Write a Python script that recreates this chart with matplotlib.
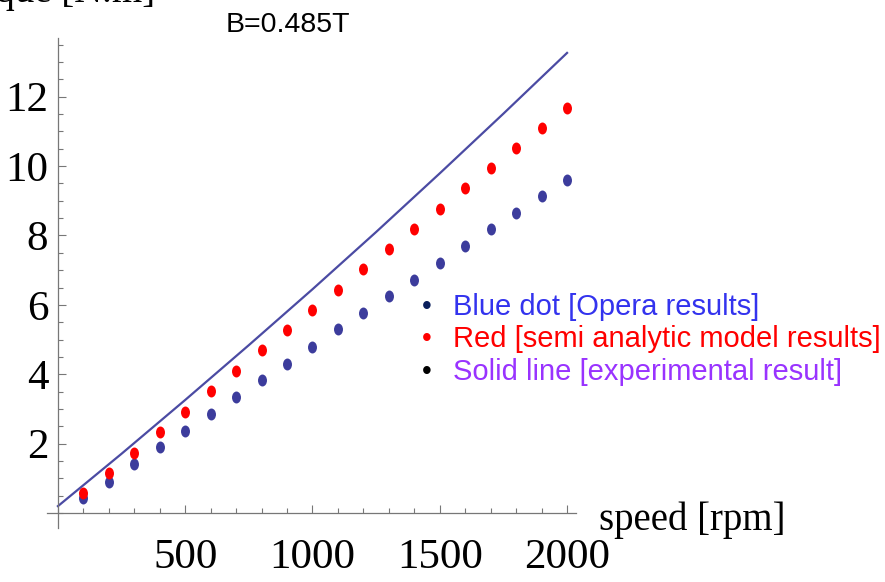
import matplotlib
matplotlib.use("Agg")
import matplotlib.pyplot as plt
from matplotlib.path import Path
from matplotlib.transforms import Affine2D
from matplotlib.ticker import MultipleLocator, FixedLocator

# speed [rpm] for the simulated points
speed = [100, 200, 300, 400, 500, 600, 700, 800, 900, 1000,
         1100, 1200, 1300, 1400, 1500, 1600, 1700, 1800, 1900, 2000]
# Opera results (blue dots)
opera = [0.43, 0.89, 1.41, 1.90, 2.36, 2.85, 3.34, 3.83, 4.29, 4.78,
         5.30, 5.76, 6.25, 6.71, 7.20, 7.69, 8.18, 8.65, 9.14, 9.60]
# semi analytic model (red dots)
semi = [0.58, 1.15, 1.73, 2.33, 2.91, 3.52, 4.09, 4.70, 5.27, 5.85,
        6.43, 7.03, 7.61, 8.18, 8.76, 9.37, 9.94, 10.52, 11.10, 11.67]
# experimental result (solid line)
exp_speed = [0, 250, 500, 750, 1000, 1250, 1500, 1750, 2000]
exp_torque = [0.20, 1.71, 3.26, 4.84, 6.45, 8.10, 9.79, 11.51, 13.26]

x_ticks = [500, 1000, 1500, 2000]
y_ticks = [2, 4, 6, 8, 10, 12]

legend_items = [("Blue dot [Opera results]", "#3333ee", "#0a1f5c"),
                ("Red [semi analytic model results]", "#ff0000", "#ff0000"),
                ("Solid line [experimental result]", "#9933ff", "#000000")]


def main():
    fig = plt.figure(figsize=(8.85, 5.82), dpi=100)
    ax = fig.add_axes([0.0531, 0.0928, 0.5977, 0.8419])

    # slightly tall dots
    dot = Path.unit_circle().transformed(Affine2D().scale(0.75, 1.0))

    ax.plot(exp_speed, exp_torque, color="#4b4ba3", linewidth=1.6, zorder=2)
    ax.plot(speed, opera, linestyle="none", marker=dot, markersize=8.6,
            color="#3c3c9c", markeredgewidth=0, zorder=3)
    ax.plot(speed, semi, linestyle="none", marker=dot, markersize=8.6,
            color="#ff0000", markeredgewidth=0, zorder=3)

    ax.set_xlim(-43, 2035)
    ax.set_ylim(-0.43, 13.69)

    for side in ["top", "right"]:
        ax.spines[side].set_visible(False)
    ax.spines["left"].set_position(("data", 0))
    ax.spines["bottom"].set_position(("data", 0))
    for side in ["left", "bottom"]:
        ax.spines[side].set_color("#777777")
        ax.spines[side].set_linewidth(0.9)

    ax.xaxis.set_major_locator(FixedLocator(x_ticks))
    ax.xaxis.set_minor_locator(MultipleLocator(100))
    ax.yaxis.set_major_locator(FixedLocator(y_ticks))
    ax.yaxis.set_minor_locator(MultipleLocator(0.5))

    ax.tick_params(which="both", direction="in", color="#777777", width=0.8)
    ax.tick_params(which="major", length=6)
    ax.tick_params(which="minor", length=3.5)
    ax.tick_params(axis="x", which="major", pad=18)
    ax.tick_params(axis="y", which="major", pad=7)
    for lab in ax.get_xticklabels() + ax.get_yticklabels():
        lab.set_fontfamily("Liberation Serif")
        lab.set_fontsize(31)

    # axis labels placed like the original
    fig.text(599 / 885, 1 - 530 / 582, "speed [rpm]", family="Liberation Serif",
             fontsize=28, ha="left", va="baseline")
    fig.text(155 / 885, 1 - 2 / 582, "Torque [N.m]", family="Liberation Serif",
             fontsize=28, ha="right", va="baseline")
    fig.text(226 / 885, 1 - 32 / 582, "B=0.485T", family="Liberation Sans",
             fontsize=20.5, ha="left", va="baseline")

    baselines = [315, 347, 380]
    for (txt, col, bullet_col), yb in zip(legend_items, baselines):
        fig.text(422 / 885, 1 - (yb - 1) / 582, "\u2022", family="Liberation Sans",
                 fontsize=20, color=bullet_col, ha="left", va="baseline")
        fig.text(453 / 885, 1 - yb / 582, txt, family="Liberation Sans",
                 fontsize=21, color=col, ha="left", va="baseline")

    plt.savefig("out.png", dpi=100)


if __name__ == "__main__":
    main()
